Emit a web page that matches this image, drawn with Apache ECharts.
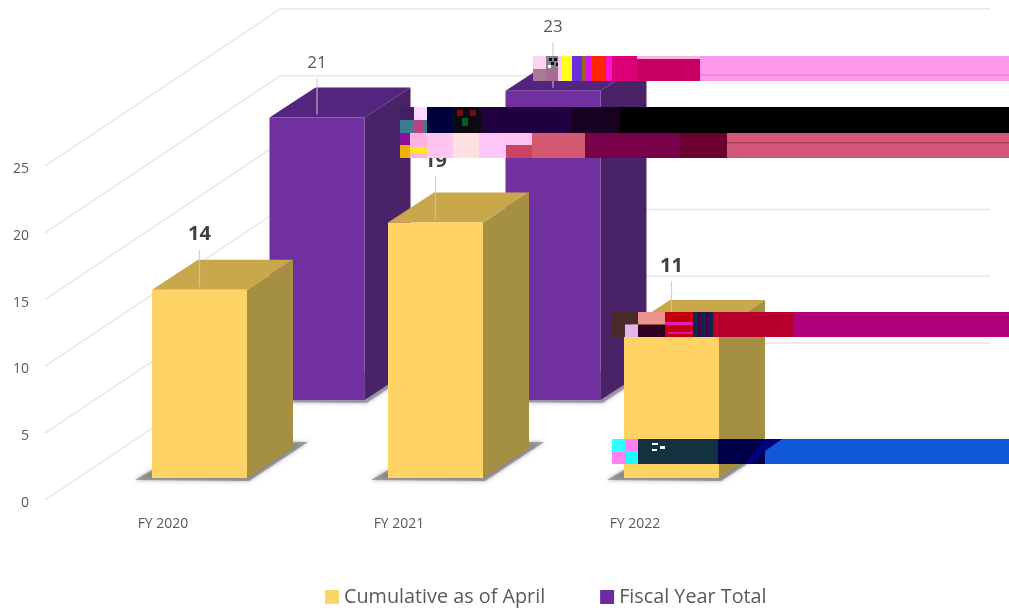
<!DOCTYPE html>
<html>
<head>
<meta charset="utf-8">
<style>html,body{margin:0;padding:0;background:#fff}#c{width:1009px;height:611px}</style>
<script src="https://cdn.jsdelivr.net/npm/echarts@6/dist/echarts.min.js"></script>
</head>
<body>
<div id="c"></div>
<script>
// ---- data ----
const categories = ['FY 2020', 'FY 2021', 'FY 2022'];
const cumulativeValues = [14, 19, 11];
const fiscalTotalValues = [21, 23];
const yTicks = [0, 5, 10, 15, 20, 25];
const seriesNames = ['Cumulative as of April', 'Fiscal Year Total'];

// ---- 3D projection settings (layout only) ----
const BAR_W = 95, DEPTH_X = 46, DEPTH_Y = 30;
const ROW_DX = 117.5, ROW_DY = 78;           // back row offset
const WALL_DX = 235, WALL_DY = 157, WALL_RIGHT = 990, WALL_LIFT = 3;
const cumulativeLabelLift = [55, 61, 64], fiscalLabelLift = [54, 63];

function boxRenderer(colors, dx, dy, lifts, font) {
  return function (params, api) {
    const idx = api.value(0), v = api.value(1);
    const top = api.coord([idx, v]), base = api.coord([idx, 0]);
    const cx = top[0] + dx, t = top[1] - dy, b = base[1] - dy;
    const x0 = cx - BAR_W / 2, x1 = cx + BAR_W / 2;
    const lift = lifts[idx];
    const poly = (pts, fill) => ({ type: 'polygon', shape: { points: pts }, style: { fill: fill } });
    return {
      type: 'group',
      children: [
        { type: 'polygon',
          shape: { points: [[x0 - 17, b + 2], [x1 + 2, b + 3], [x1 + 61, b - 36], [x1 + 40, b - 36], [x0, b - 8]] },
          style: { fill: colors.shadow, shadowBlur: 4, shadowColor: colors.shadow, opacity: 0.55 } },
        poly([[x1, t], [x1 + DEPTH_X, t - DEPTH_Y], [x1 + DEPTH_X, b - DEPTH_Y], [x1, b]], colors.side),
        poly([[x0, t], [x0 + DEPTH_X, t - DEPTH_Y], [x1 + DEPTH_X, t - DEPTH_Y], [x1, t]], colors.top),
        { type: 'rect', shape: { x: x0, y: t, width: BAR_W, height: b - t }, style: { fill: colors.front } },
        { type: 'line', shape: { x1: cx, y1: t - lift + 15, x2: cx, y2: t - 3 }, style: { stroke: 'rgba(200,200,200,0.85)', lineWidth: 1.2 } },
        { type: 'text', style: { text: String(v), x: cx, y: t - lift, align: 'center', verticalAlign: 'middle', fill: font.color, font: font.css } }
      ]
    };
  };
}

// ---- artefact bands (decoration over the chart) ----
const bandRects = [
  // band 1
  [533,56,13,13,'#FFD4F2'],[533,69,13,12,'#A87A98'],[546,56,12,13,'#888088'],[546,69,12,12,'#A86C90'],
  [549,58,3,3,'#111'],[554,58,3,3,'#111'],[551,62,3,3,'#111'],[556,63,2,3,'#111'],[548,65,3,3,'#fff'],
  [558,56,4,25,'#FFC8F4'],[562,56,10,25,'#FFFF20'],[572,56,10,25,'#6A30E0'],[582,56,4,25,'#8C6A20'],
  [586,56,6,25,'#E010E8'],[592,56,14,25,'#FF2400'],[606,56,6,25,'#FF10D0'],[612,56,25,25,'#DC0078'],
  [637,59,63,22,'#C80062'],[637,56,63,3,'#FFB0E8'],[700,56,309,25,'#FF99EC'],[700,74,309,2,'#FF80DC'],
  // band 2
  [400,107,14,13,'#402060'],[414,107,13,13,'#FFD8FF'],[400,120,27,13,'#3A7C90'],[413,120,10,13,'#B84488'],
  [427,107,26,26,'#00003C'],[453,107,28,26,'#0A0A10'],[457,110,6,6,'#7A0810'],[470,110,6,6,'#7A0810'],[462,118,6,8,'#0A5A20'],
  [481,107,91,26,'#200040'],[572,107,48,26,'#180020'],[620,107,389,26,'#000000'],
  // band 3
  [400,133,10,12,'#8A10A0'],[400,145,10,13,'#F0B000'],[410,133,17,25,'#FFB4E0'],[410,147,17,6,'#FFE820'],
  [427,133,26,25,'#FFC4F2'],[453,133,26,25,'#FFE0E0'],[479,133,27,25,'#FFC4F8'],[506,133,26,12,'#FFC4F4'],
  [506,145,26,13,'#C84460'],[532,133,53,25,'#D45A72'],[585,133,95,25,'#780048'],[680,133,47,25,'#6C002E'],
  [727,133,282,25,'#D4567A'],[727,142,282,1.5,'#B03C5C'],
  // band 4
  [612,312,26,12.5,'#4A2A28'],[612,324.5,13,12.5,'#4A2A28'],[625,324.5,13,12.5,'#E4B4E8'],
  [638,312,27,12.5,'#EE9490'],[638,324.5,27,12.5,'#300020'],[665,312,28,25,'#C40010'],[665,322,28,3,'#E020B0'],[668,332,25,2,'#E010A0'],
  [693,312,20,25,'#102848'],[698,312,3,25,'#400050'],[706,312,3,25,'#400050'],
  [713,312,80,25,'#B8002E'],[793,312,216,25,'#B0007C'],
  // band 5
  [612,439,13,12.5,'#30FFFF'],[625,439,13,12.5,'#FF80F0'],[612,451.5,13,12.5,'#FF80F0'],[625,451.5,13,12.5,'#10FFFF'],
  [638,439,80,25,'#14313F'],[652,443,6,2,'#FFF'],[660,446,5,3,'#FFF'],[652,449,5,2,'#FFF'],[652,450,4,1,'#FFF'],
  [718,439,47,25,'#000048'],[765,439,244,25,'#1058D8']
];
const bandGraphics = bandRects.map(r => ({
  type: 'rect', z: 100, silent: true,
  shape: { x: r[0], y: r[1], width: r[2], height: r[3] }, style: { fill: r[4] }
}));
bandGraphics.push({
  type: 'polygon', z: 101, silent: true,
  shape: { points: [[765,439],[782,439],[765,451],[752,464],[745,464]] }, style: { fill: '#000080' }
});

const wallAxisGrid = { left: 45, width: 708, top: 166 + WALL_LIFT, height: 334 };
const barAxisGrid = { left: 81.5, width: 708, top: 141.75, height: 336.25 };
const chart = echarts.init(document.getElementById('c'));
const cumulativeColors = { front: '#FFD364', top: '#C9A84B', side: '#A58F42', shadow: '#6A6A6A' };
const fiscalColors = { front: '#70309F', top: '#53257F', side: '#4A2268', shadow: '#7A7088' };

chart.setOption({
  animation: false,
  backgroundColor: '#ffffff',
  grid: [wallAxisGrid, barAxisGrid],
  xAxis: [
    { type: 'category', gridIndex: 0, data: categories, axisLine: { show: false }, axisTick: { show: false },
      axisLabel: { color: '#595959', fontSize: 14, fontFamily: 'Open Sans', margin: 14 } },
    { type: 'category', gridIndex: 1, data: categories, show: false }
  ],
  yAxis: [
    { type: 'value', gridIndex: 0, min: 0, max: 25, interval: 5, axisLine: { show: false }, axisTick: { show: false },
      splitLine: { show: false },
      axisLabel: { color: '#595959', fontSize: 14, fontFamily: 'Open Sans', margin: 16 } },
    { type: 'value', gridIndex: 1, min: 0, max: 25, interval: 5, show: false, splitLine: { show: false } }
  ],
  legend: {
    data: seriesNames, left: 325, top: 587, icon: 'rect', itemWidth: 14, itemHeight: 14, itemGap: 55, padding: 0,
    textStyle: { color: '#595959', fontSize: 19.8, fontFamily: 'Open Sans' }
  },
  series: [
    { type: 'custom', silent: true, xAxisIndex: 0, yAxisIndex: 0, z: 1,
      data: yTicks.map(v => [0, v]),
      renderItem: (params, api) => {
        const y = api.coord([0, api.value(1)])[1] - WALL_LIFT, x = params.coordSys.x;
        return { type: 'polyline', shape: { points: [[x, y], [x + WALL_DX, y - WALL_DY], [WALL_RIGHT, y - WALL_DY]] },
          style: { stroke: '#E6E6E6', lineWidth: 1.5, fill: null } };
      } },
    { name: seriesNames[1], type: 'custom', xAxisIndex: 1, yAxisIndex: 1, z: 2, itemStyle: { color: '#6A2CA0' },
      data: fiscalTotalValues.map((v, i) => [i, v]),
      renderItem: boxRenderer(fiscalColors, ROW_DX, ROW_DY, fiscalLabelLift, { color: '#595959', css: '17px "Open Sans"' }) },
    { name: seriesNames[0], type: 'custom', xAxisIndex: 1, yAxisIndex: 1, z: 3, itemStyle: { color: '#F8D766' },
      data: cumulativeValues.map((v, i) => [i, v]),
      renderItem: boxRenderer(cumulativeColors, 0, 0, cumulativeLabelLift, { color: '#404040', css: 'bold 20px "Open Sans"' }) }
  ],
  graphic: bandGraphics
});
</script>
</body>
</html>
